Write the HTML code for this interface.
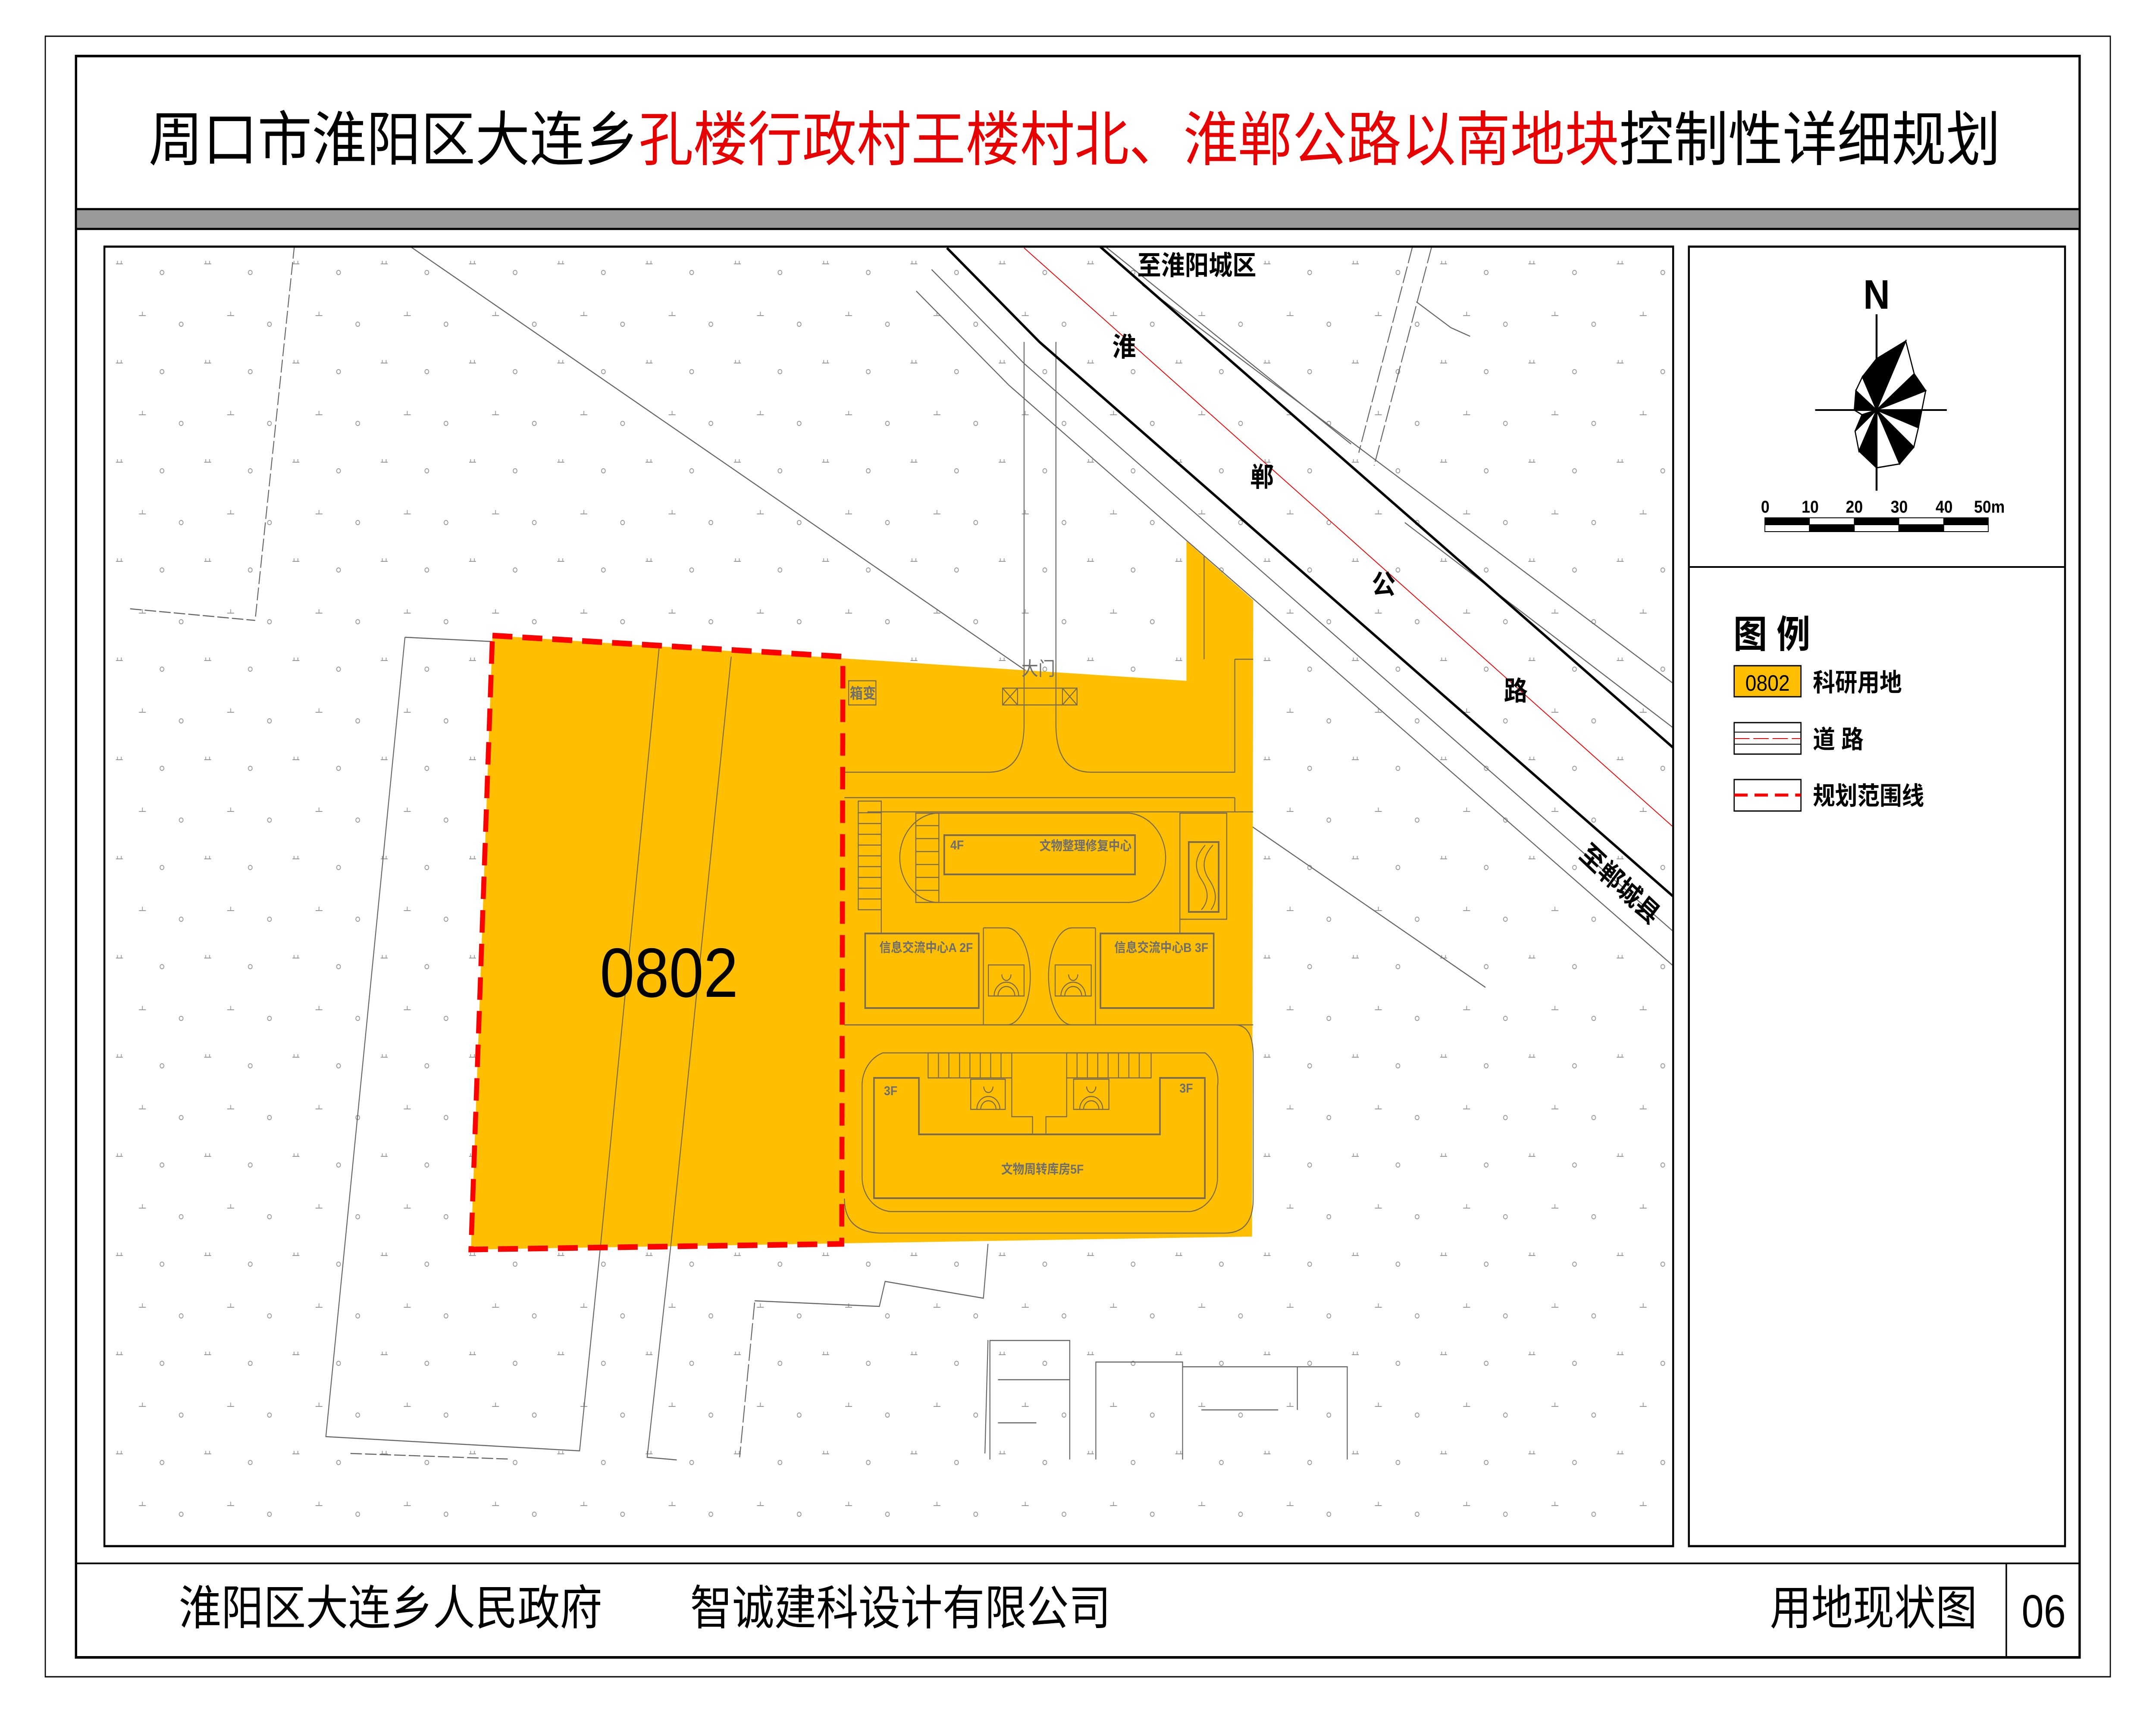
<!DOCTYPE html>
<html><head><meta charset="utf-8"><style>
html,body{margin:0;padding:0;background:#fff;width:100%;height:100%;overflow:hidden;}
svg{display:block;width:100vw;height:100vh;}
.cj{font-family:"Liberation Sans","Noto Sans CJK SC","WenQuanYi Zen Hei",sans-serif;}
</style></head><body>
<svg viewBox="0 0 5617 3973" preserveAspectRatio="none" xmlns="http://www.w3.org/2000/svg">
<defs>
<pattern id="dots" x="272" y="572" width="230" height="230" patternUnits="userSpaceOnUse">
<g stroke="#9a9a9a" stroke-width="2" fill="none">
<path d="M30 40h18M34 40v-7M44 40v-7"/>
<circle cx="150" cy="60" r="5"/>
<path d="M90 160h18M99 160v-9"/>
<circle cx="200" cy="180" r="5"/>
</g>
</pattern>
<clipPath id="mapclip"><rect x="272" y="572" width="4087" height="3014"/></clipPath>
</defs>
<rect width="5617" height="3973" fill="#fff"/>
<rect x="118" y="84" width="5380" height="3805" fill="none" stroke="#000" stroke-width="3"/>
<rect x="198" y="130" width="5220" height="3714" fill="none" stroke="#000" stroke-width="6"/>
<rect x="198" y="485" width="5220" height="46" fill="#999" stroke="#000" stroke-width="5"/>
<line x1="198" y1="3626" x2="5418" y2="3626" stroke="#000" stroke-width="4"/>
<line x1="5227" y1="3626" x2="5227" y2="3844" stroke="#000" stroke-width="4"/>

<text class="cj" x="387" y="372" font-size="138" textLength="4825" lengthAdjust="spacingAndGlyphs" fill="#000">周口市淮阳区大连乡<tspan fill="#e60000">孔楼行政村王楼村北、淮郸公路以南地块</tspan>控制性详细规划</text>

<text class="cj" x="466" y="3768" font-size="110" textLength="1103" lengthAdjust="spacingAndGlyphs">淮阳区大连乡人民政府</text>
<text class="cj" x="1798" y="3768" font-size="110" textLength="1096" lengthAdjust="spacingAndGlyphs">智诚建科设计有限公司</text>
<text class="cj" x="4611" y="3768" font-size="110" textLength="540" lengthAdjust="spacingAndGlyphs">用地现状图</text>
<text x="5267" y="3774" font-family="Liberation Sans, sans-serif" font-size="108" textLength="115" lengthAdjust="spacingAndGlyphs">06</text>

<g clip-path="url(#mapclip)">
<rect x="272" y="572" width="4087" height="3014" fill="url(#dots)"/>
<g fill="none" stroke="#666" stroke-width="2.5">
<path d="M767 570 L665 1436" stroke-dasharray="30 8"/>
<path d="M339 1412 L665 1439" stroke-dasharray="30 8"/>
<path d="M1055 1478 L849 3332 L1510 3365 L1564 2894"/>
<path d="M1055 1478 L1283 1488"/>
<path d="M1747 2894 L1686 3380 L1763 3386"/>
<path d="M913 3371 L1326 3384" stroke-dasharray="30 8"/>
<path d="M1966 3021 L1927 3380" stroke-dasharray="40 8"/>
<path d="M1966 3017 L2291 3030 L2306 2972 L2562 3011 L2574 2885"/>
<path d="M2574 3108 L2566 3371"/>
<path d="M2579 3385 V3109 H2787 V3385 M2600 3200 H2787 M2600 3300 H2700"/>
<path d="M2855 3385 V3159 H3081 V3385 M3081 3170 H3380 V3270 M3380 3170 H3510 V3385 M3130 3270 H3330"/>
<path d="M1066 570 L3870 2290"/>
<path d="M2427 625 L2668 843 L4359 2160"/>
<path d="M2387 675 L2628 893 L4359 2240"/>
<path d="M2976 661 L4359 1585"/>
<path d="M2880 572 L3520 1030"/>
<path d="M3660 1212 L4359 1688"/>
<path d="M3680 572 L3540 1050 M3730 572 L3580 1080" stroke-dasharray="40 8"/>
<path d="M3690 700 L3780 760 M3780 760 L3830 780"/>
<path d="M2668 793 V1680 M2751 793 V1680"/>
</g>
<path d="M2866 572 L4359 1734" stroke="#000" stroke-width="6" fill="none"/>
<path d="M2467 575 L2708 793 L4359 2079" stroke="#000" stroke-width="6" fill="none"/>
<path d="M2668 575 L4359 1918" stroke="#e00" stroke-width="2" fill="none"/>
<g class="cj" font-size="62" font-weight="bold" fill="#000" text-anchor="middle">
<text x="3118" y="637">至淮阳城区</text>
<text x="2929" y="826">淮</text>
<text x="3288" y="1128">郸</text>
<text x="3605" y="1377">公</text>
<text x="3949" y="1624">路</text>
<text x="4221" y="2072" transform="rotate(40 4221 2050)">至郸城县</text>
</g>
<polygon points="1283,1474 3091,1579 3091,1255 3265,1392 3262,2868 1227,2898" fill="#FFBF00"/>
<g fill="none" stroke="#7a6a50" stroke-width="2.5">
<path d="M1717 1504 L1564 2894 M1905 1523 L1747 2894"/>
<path d="M2668 1540 V1680 Q2668 1791 2575 1791 H2200 M2751 1540 V1680 Q2751 1791 2843 1791 H3217 V1529 M3217 1529 H3265 M3137 1290 V1529"/>
<path d="M2612 1596 H2806 V1635 H2612 Z M2612 1596 L2651 1635 M2651 1596 L2612 1635 M2651 1596 V1635 M2768 1596 L2806 1635 M2806 1596 L2768 1635 M2768 1596 V1635"/>
<rect x="2211" y="1579" width="71" height="56"/>
<path d="M2200 1850 H3217 M2260 1883 H3217 V1850 M3217 1883 H3265"/>
<path d="M2438 1886 H2943 A104 104 0 0 1 2943 2093 H2438 A104 104 0 0 1 2438 1886 Z"/>
<rect x="2460" y="1937" width="497" height="91" stroke-width="4"/>
<path d="M2236 1858 H2296 V2110 H2236 Z M2236 1885 H2296 M2236 1910 H2296 M2236 1935 H2296 M2236 1960 H2296 M2236 1985 H2296 M2236 2010 H2296 M2236 2035 H2296 M2236 2060 H2296 M2236 2085 H2296"/>
<path d="M2386 1886 H2446 V2093 H2386 Z M2386 1915 H2446 M2386 1945 H2446 M2386 1975 H2446 M2386 2005 H2446 M2386 2035 H2446 M2386 2065 H2446"/>
<rect x="3074" y="1886" width="122" height="246"/>
<rect x="3097" y="1953" width="78" height="162" stroke-width="4"/>
<path d="M3140 1960 Q3100 2000 3130 2040 Q3160 2080 3130 2110 M3160 1960 Q3120 2000 3150 2040 Q3180 2080 3155 2110"/>
<path d="M2296 2110 V2165 M3074 2132 V2165 M2200 2377 H3265 M2562 2152 V2377 M2854 2152 V2377"/>
<rect x="2254" y="2165" width="296" height="173" stroke-width="4"/>
<rect x="2867" y="2165" width="295" height="173" stroke-width="4"/>
<path d="M2562 2152 H2623 A61 112 0 0 1 2623 2377 H2562 M2854 2152 H2793 A61 112 0 0 0 2793 2377 H2854"/>
<rect x="2575" y="2238" width="93" height="72"/>
<rect x="2749" y="2238" width="94" height="72"/>
<path d="M2590 2310 A32 32 0 0 1 2654 2310 M2600 2310 A22 22 0 0 1 2644 2310 M2610 2260 A12 14 0 0 0 2634 2260"/>
<path d="M2764 2310 A32 32 0 0 1 2828 2310 M2774 2310 A22 22 0 0 1 2818 2310 M2784 2260 A12 14 0 0 0 2808 2260"/>
<path d="M2200 2377 H3217 Q3265 2377 3265 2450 V2780 Q3265 2860 3190 2860 H2300 Q2200 2860 2200 2780"/>
<path d="M2300 2442 H3140 A80 80 0 0 1 3172 2520 V2730 A80 80 0 0 1 3100 2810 H2320 A80 80 0 0 1 2246 2730 V2520 A80 80 0 0 1 2300 2442 Z"/>
<path d="M2277 2500 H2394 V2631 H3022 V2500 H3139 V2779 H2277 Z" stroke-width="4"/>
<path d="M2418 2442 H2636 V2500 H2418 Z M2445 2442 V2500 M2472 2442 V2500 M2500 2442 V2500 M2527 2442 V2500 M2554 2442 V2500 M2581 2442 V2500 M2608 2442 V2500"/>
<path d="M2779 2442 H2999 V2500 H2779 Z M2806 2442 V2500 M2833 2442 V2500 M2860 2442 V2500 M2887 2442 V2500 M2914 2442 V2500 M2941 2442 V2500 M2968 2442 V2500"/>
<path d="M2636 2500 V2590 H2690 V2631 M2779 2500 V2590 H2725 V2631"/>
<rect x="2529" y="2503" width="90" height="70"/>
<rect x="2797" y="2503" width="92" height="70"/>
<path d="M2545 2573 A30 30 0 0 1 2605 2573 M2555 2573 A20 20 0 0 1 2595 2573 M2563 2520 A12 14 0 0 0 2587 2520"/>
<path d="M2813 2573 A30 30 0 0 1 2873 2573 M2823 2573 A20 20 0 0 1 2863 2573 M2831 2520 A12 14 0 0 0 2855 2520"/>
</g>
<g class="cj" fill="#6e6e6e" font-weight="bold" font-size="30">
<text x="2214" y="1620" font-size="34">箱变</text>
<text x="2705" y="1566" font-size="44" text-anchor="middle" font-weight="normal">大门</text>
<text x="2476" y="1970">4F</text>
<text x="2948" y="1972" text-anchor="end">文物整理修复中心</text>
<text x="2291" y="2208">信息交流中心A  2F</text>
<text x="2903" y="2208">信息交流中心B  3F</text>
<text x="2303" y="2540">3F</text>
<text x="3073" y="2534">3F</text>
<text x="2716" y="2722" text-anchor="middle">文物周转库房5F</text>
</g>
<polygon points="1283,1474 2196,1523 2193,2885 1227,2898" fill="none" stroke="#f00" stroke-width="13" stroke-dasharray="52 26"/>
<text x="1743" y="2312" font-family="Liberation Sans, sans-serif" font-size="162" text-anchor="middle" fill="#000">0802</text>
</g>
<path d="M272 572 H4359 V3586 H272 Z" fill="none" stroke="#000" stroke-width="5"/>

<rect x="4400" y="572" width="980" height="3014" fill="none" stroke="#000" stroke-width="5"/>
<line x1="4400" y1="1315" x2="5380" y2="1315" stroke="#000" stroke-width="4"/>
<text x="4889" y="716" font-family="Liberation Sans, sans-serif" font-weight="bold" font-size="96" text-anchor="middle">N</text>
<g stroke="#000" stroke-width="3">
<polygon points="4889,951 4889,832 4965,791" fill="#000"/>
<polygon points="4889,951 4965,791 4987,867" fill="#fff"/>
<polygon points="4889,951 4987,867 5017,906" fill="#000"/>
<polygon points="4889,951 5017,906 5007,951" fill="#fff"/>
<polygon points="4889,951 5007,951 4998,992" fill="#000"/>
<polygon points="4889,951 4998,992 4986,1037" fill="#fff"/>
<polygon points="4889,951 4986,1037 4949,1076" fill="#000"/>
<polygon points="4889,951 4949,1076 4889,1085" fill="#fff"/>
<polygon points="4889,951 4889,1085 4843,1046" fill="#000"/>
<polygon points="4889,951 4843,1046 4833,1000" fill="#fff"/>
<polygon points="4889,951 4833,1000 4851,962" fill="#000"/>
<polygon points="4889,951 4851,962 4831,951" fill="#fff"/>
<polygon points="4889,951 4831,951 4835,906" fill="#000"/>
<polygon points="4889,951 4835,906 4852,874" fill="#fff"/>
<polygon points="4889,951 4852,874 4889,832" fill="#000"/>
</g>
<line x1="4889" y1="729" x2="4889" y2="1138" stroke="#000" stroke-width="5"/>
<line x1="4729" y1="951" x2="5072" y2="951" stroke="#000" stroke-width="4"/>
<g font-family="Liberation Sans, sans-serif" font-weight="bold" font-size="40" text-anchor="middle">
<text x="4599" y="1189">0</text><text x="4716" y="1189">10</text><text x="4831" y="1189">20</text><text x="4948" y="1189">30</text><text x="5065" y="1189">40</text><text x="5183" y="1189">50m</text>
</g>
<g stroke="#000" stroke-width="2">
<rect x="4598" y="1201" width="116" height="16" fill="#000"/><rect x="4598" y="1217" width="116" height="16" fill="#fff"/>
<rect x="4714" y="1201" width="117" height="16" fill="#fff"/><rect x="4714" y="1217" width="117" height="16" fill="#000"/>
<rect x="4831" y="1201" width="116" height="16" fill="#000"/><rect x="4831" y="1217" width="116" height="16" fill="#fff"/>
<rect x="4947" y="1201" width="117" height="16" fill="#fff"/><rect x="4947" y="1217" width="117" height="16" fill="#000"/>
<rect x="5064" y="1201" width="116" height="16" fill="#000"/><rect x="5064" y="1217" width="116" height="16" fill="#fff"/>
</g>
<text class="cj" x="4516" y="1502" font-size="88" font-weight="bold">图  例</text>
<rect x="4518" y="1544" width="174" height="72" fill="#FFBF00" stroke="#000" stroke-width="3"/>
<text x="4605" y="1602" font-family="Liberation Sans, sans-serif" font-size="52" text-anchor="middle">0802</text>
<text class="cj" x="4723" y="1603" font-size="58" font-weight="bold">科研用地</text>
<rect x="4518" y="1676" width="174" height="73" fill="#fff" stroke="#000" stroke-width="3"/>
<line x1="4518" y1="1698" x2="4692" y2="1698" stroke="#000" stroke-width="2"/>
<line x1="4518" y1="1713" x2="4692" y2="1713" stroke="#e00" stroke-width="2" stroke-dasharray="40 10"/>
<line x1="4518" y1="1726" x2="4692" y2="1726" stroke="#000" stroke-width="2"/>
<text class="cj" x="4723" y="1735" font-size="58" font-weight="bold">道  路</text>
<rect x="4518" y="1808" width="174" height="73" fill="#fff" stroke="#000" stroke-width="3"/>
<line x1="4518" y1="1844" x2="4692" y2="1844" stroke="#f00" stroke-width="7" stroke-dasharray="35 18"/>
<text class="cj" x="4723" y="1866" font-size="58" font-weight="bold">规划范围线</text>
</svg>
</body></html>
